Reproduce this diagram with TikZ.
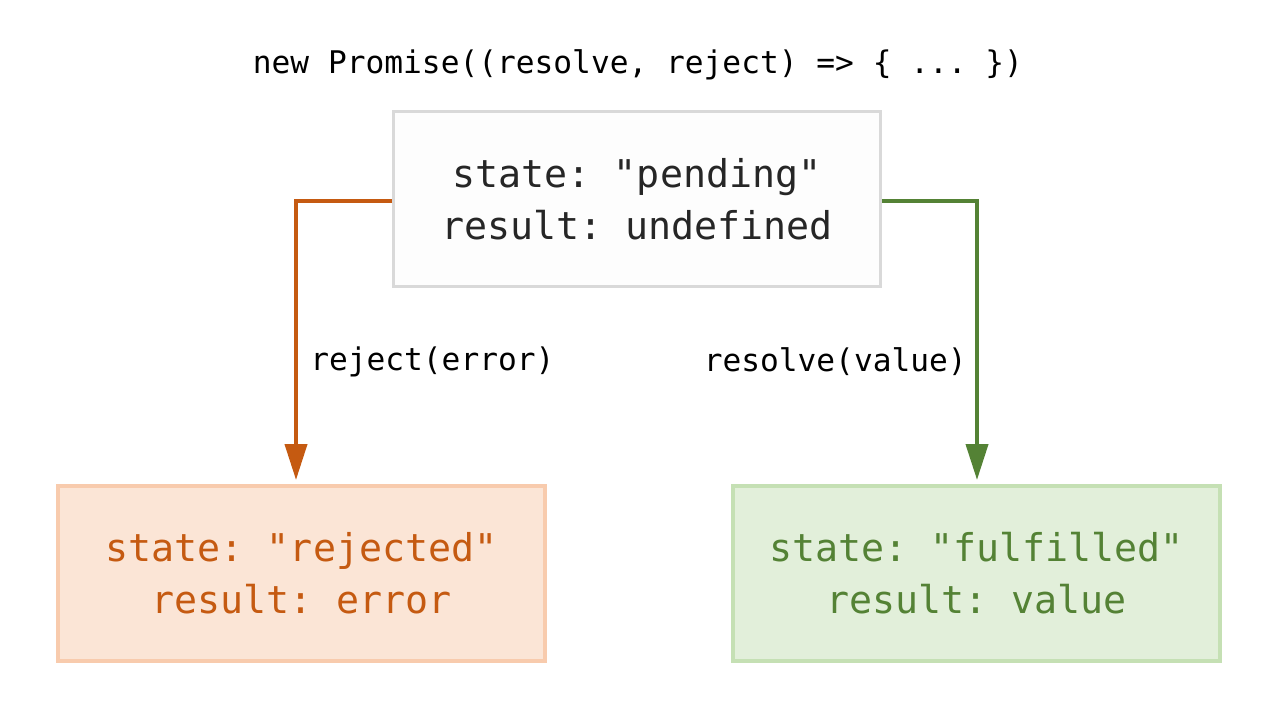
\documentclass[tikz,border=0pt]{standalone}
\usepackage{fontspec}
\setmonofont{DejaVu Sans Mono}
\usetikzlibrary{arrows.meta}
\usetikzlibrary{positioning}
\definecolor{rejline}{HTML}{C55A11}
\definecolor{rejfill}{HTML}{FBE5D6}
\definecolor{rejdraw}{HTML}{F8CBAD}
\definecolor{fulline}{HTML}{548235}
\definecolor{fulfill}{HTML}{E2EFDA}
\definecolor{fuldraw}{HTML}{C5E0B4}
\definecolor{pendraw}{HTML}{D9D9D9}
\definecolor{penfill}{HTML}{FDFDFD}
\definecolor{pentext}{HTML}{262626}

\begin{document}
\begin{tikzpicture}[x=0.75pt, y=-0.75pt,
  statebox/.style={draw, line width=2.6pt, minimum width=365pt, minimum height=131pt, align=center, font=\ttfamily\fontsize{28.7}{39}\selectfont},
  codelabel/.style={font=\ttfamily\fontsize{23.4}{28}\selectfont, inner sep=0pt},
  flow/.style={line width=3pt, -{Triangle[width=16.5pt, length=27pt]}}]
\useasboundingbox (0,0) rectangle (1280,720);
\node[codelabel] (title) at (638,65) {new Promise((resolve, reject) => \{ ... \})};
\node[statebox, draw=pendraw, fill=penfill, text=pentext] (pending) at (637,199) {state: "pending"\\result: undefined};
\node[statebox, draw=rejdraw, fill=rejfill, text=rejline] (rejected) at (301.5,573.5) {state: "rejected"\\result: error};
\node[statebox, draw=fuldraw, fill=fulfill, text=fulline] (fulfilled) at (976.5,573.5) {state: "fulfilled"\\result: value};
\coordinate (rejtip) at (296,480);
\coordinate (fultip) at (977,480);
\draw[flow, draw=rejline] ([yshift=-1.5pt]pending.west) -| (rejtip);
\draw[flow, draw=fulline] ([yshift=-1.5pt]pending.east) -| (fultip);
\node[codelabel, anchor=west] (rejlabel) at (310,362) {reject(error)};
\node[codelabel, anchor=east] (fullabel) at (967,362) {resolve(value)};
\end{tikzpicture}
\end{document}
